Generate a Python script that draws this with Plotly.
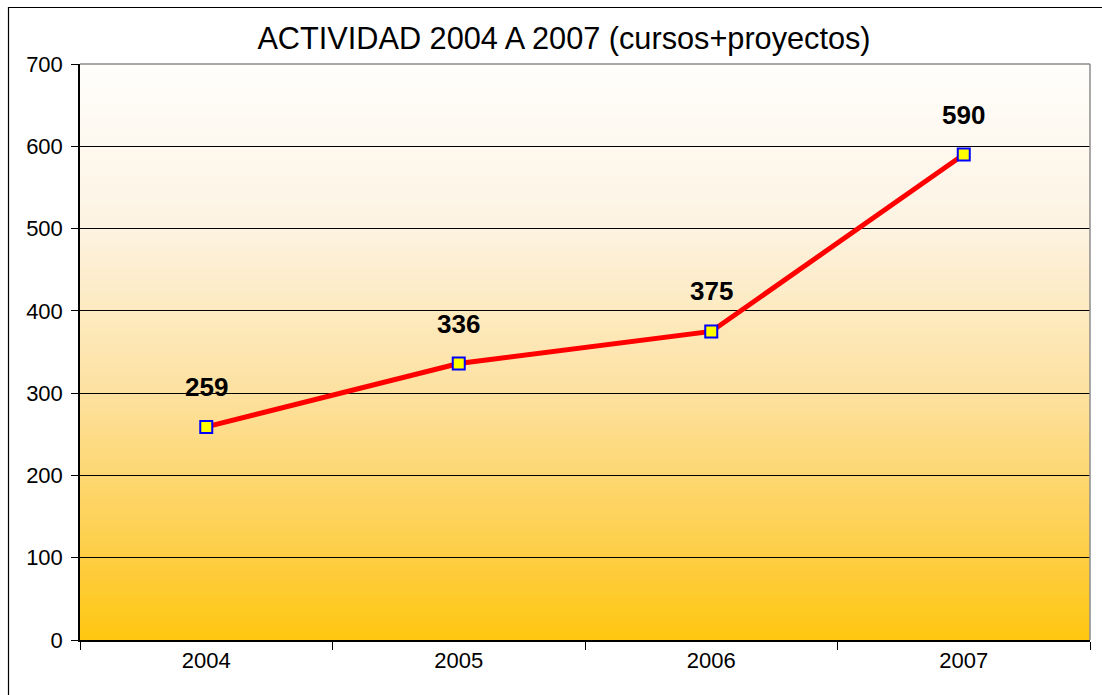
import plotly.graph_objects as go

years = ["2004", "2005", "2006", "2007"]
values = [259, 336, 375, 590]
title_text = "ACTIVIDAD 2004 A 2007 (cursos+proyectos)"
y_ticks = [0, 100, 200, 300, 400, 500, 600, 700]

W, H = 1102, 695
ML, MR, MT, MB = 80, 12, 64, 55
PW = W - ML - MR
PH = H - MT - MB

def px_x(p):
    return (p - ML) / PW

def px_y(p):
    return (H - MB - p) / PH

# gradient stops (fraction from bottom, rgb)
stops = [(0.0, (255, 199, 16)), (0.15, (253, 206, 70)), (0.43, (253, 225, 160)),
         (0.72, (253, 243, 226)), (1.0, (255, 254, 252))]

def col(t):
    for i in range(len(stops) - 1):
        a, ca = stops[i]
        b, cb = stops[i + 1]
        if a <= t <= b:
            f = (t - a) / (b - a)
            return "rgb(%d,%d,%d)" % tuple(round(ca[k] + (cb[k] - ca[k]) * f) for k in range(3))
    return "rgb(255,254,252)"

shapes = []
N = 120
for i in range(N):
    y0 = i / N
    y1 = (i + 1) / N
    shapes.append(dict(type="rect", xref="paper", yref="paper", x0=0, x1=1, y0=y0, y1=y1 + 0.002,
                       fillcolor=col((y0 + y1) / 2), line=dict(width=0), layer="below"))

# plot area border (gray top/right)
shapes.append(dict(type="line", xref="paper", yref="paper", x0=0, x1=1, y0=1, y1=1,
                   line=dict(color="#8c8c8c", width=1.5)))
shapes.append(dict(type="line", xref="paper", yref="paper", x0=1, x1=1, y0=0, y1=1,
                   line=dict(color="#8c8c8c", width=1.5)))
# outer chart border
shapes.append(dict(type="rect", xref="paper", yref="paper", x0=px_x(8.5), x1=px_x(1200),
                   y0=px_y(800), y1=px_y(7.5), line=dict(color="black", width=1.2)))

fig = go.Figure()
fig.add_trace(go.Scatter(
    x=years, y=values, mode="lines+markers",
    line=dict(color="#ff0000", width=5),
    marker=dict(symbol="square", size=12, color="#ffff00", line=dict(color="#0000ff", width=2)),
    hoverinfo="skip", showlegend=False,
))

annotations = []
for i, v in enumerate(values):
    annotations.append(dict(x=i, y=v, xref="x", yref="y", text="<b>%d</b>" % v, showarrow=False,
                            yshift=40, font=dict(family="Liberation Sans, Arial", size=26, color="black")))

fig.update_layout(
    width=W, height=H,
    margin=dict(l=ML, r=MR, t=MT, b=MB),
    paper_bgcolor="white",
    plot_bgcolor="rgba(0,0,0,0)",
    title=dict(text=title_text, xref="container", x=564 / W, xanchor="center",
               yref="container", y=1 - 38 / H, yanchor="middle",
               font=dict(family="Liberation Sans, Arial", size=30.7, color="black")),
    xaxis=dict(type="category", range=[-0.5, 3.5], tickson="boundaries", ticks="outside", ticklen=8,
               tickcolor="black", showline=True, linecolor="black", linewidth=1.5, showgrid=False,
               tickfont=dict(family="Liberation Sans, Arial", size=22, color="black"), fixedrange=True),
    yaxis=dict(range=[0, 700], tickvals=y_ticks, ticks="outside", ticklen=7, tickcolor="black",
               showline=True, linecolor="black", linewidth=1.5, showgrid=True, gridcolor="black",
               gridwidth=1, zeroline=False, ticklabelstandoff=4,
               tickfont=dict(family="Liberation Sans, Arial", size=22, color="black"), fixedrange=True),
    shapes=shapes,
    annotations=annotations,
)

fig.write_html("out.html", config={"displayModeBar": False},
               post_script="document.body.style.margin='0';document.body.style.overflow='hidden';")
